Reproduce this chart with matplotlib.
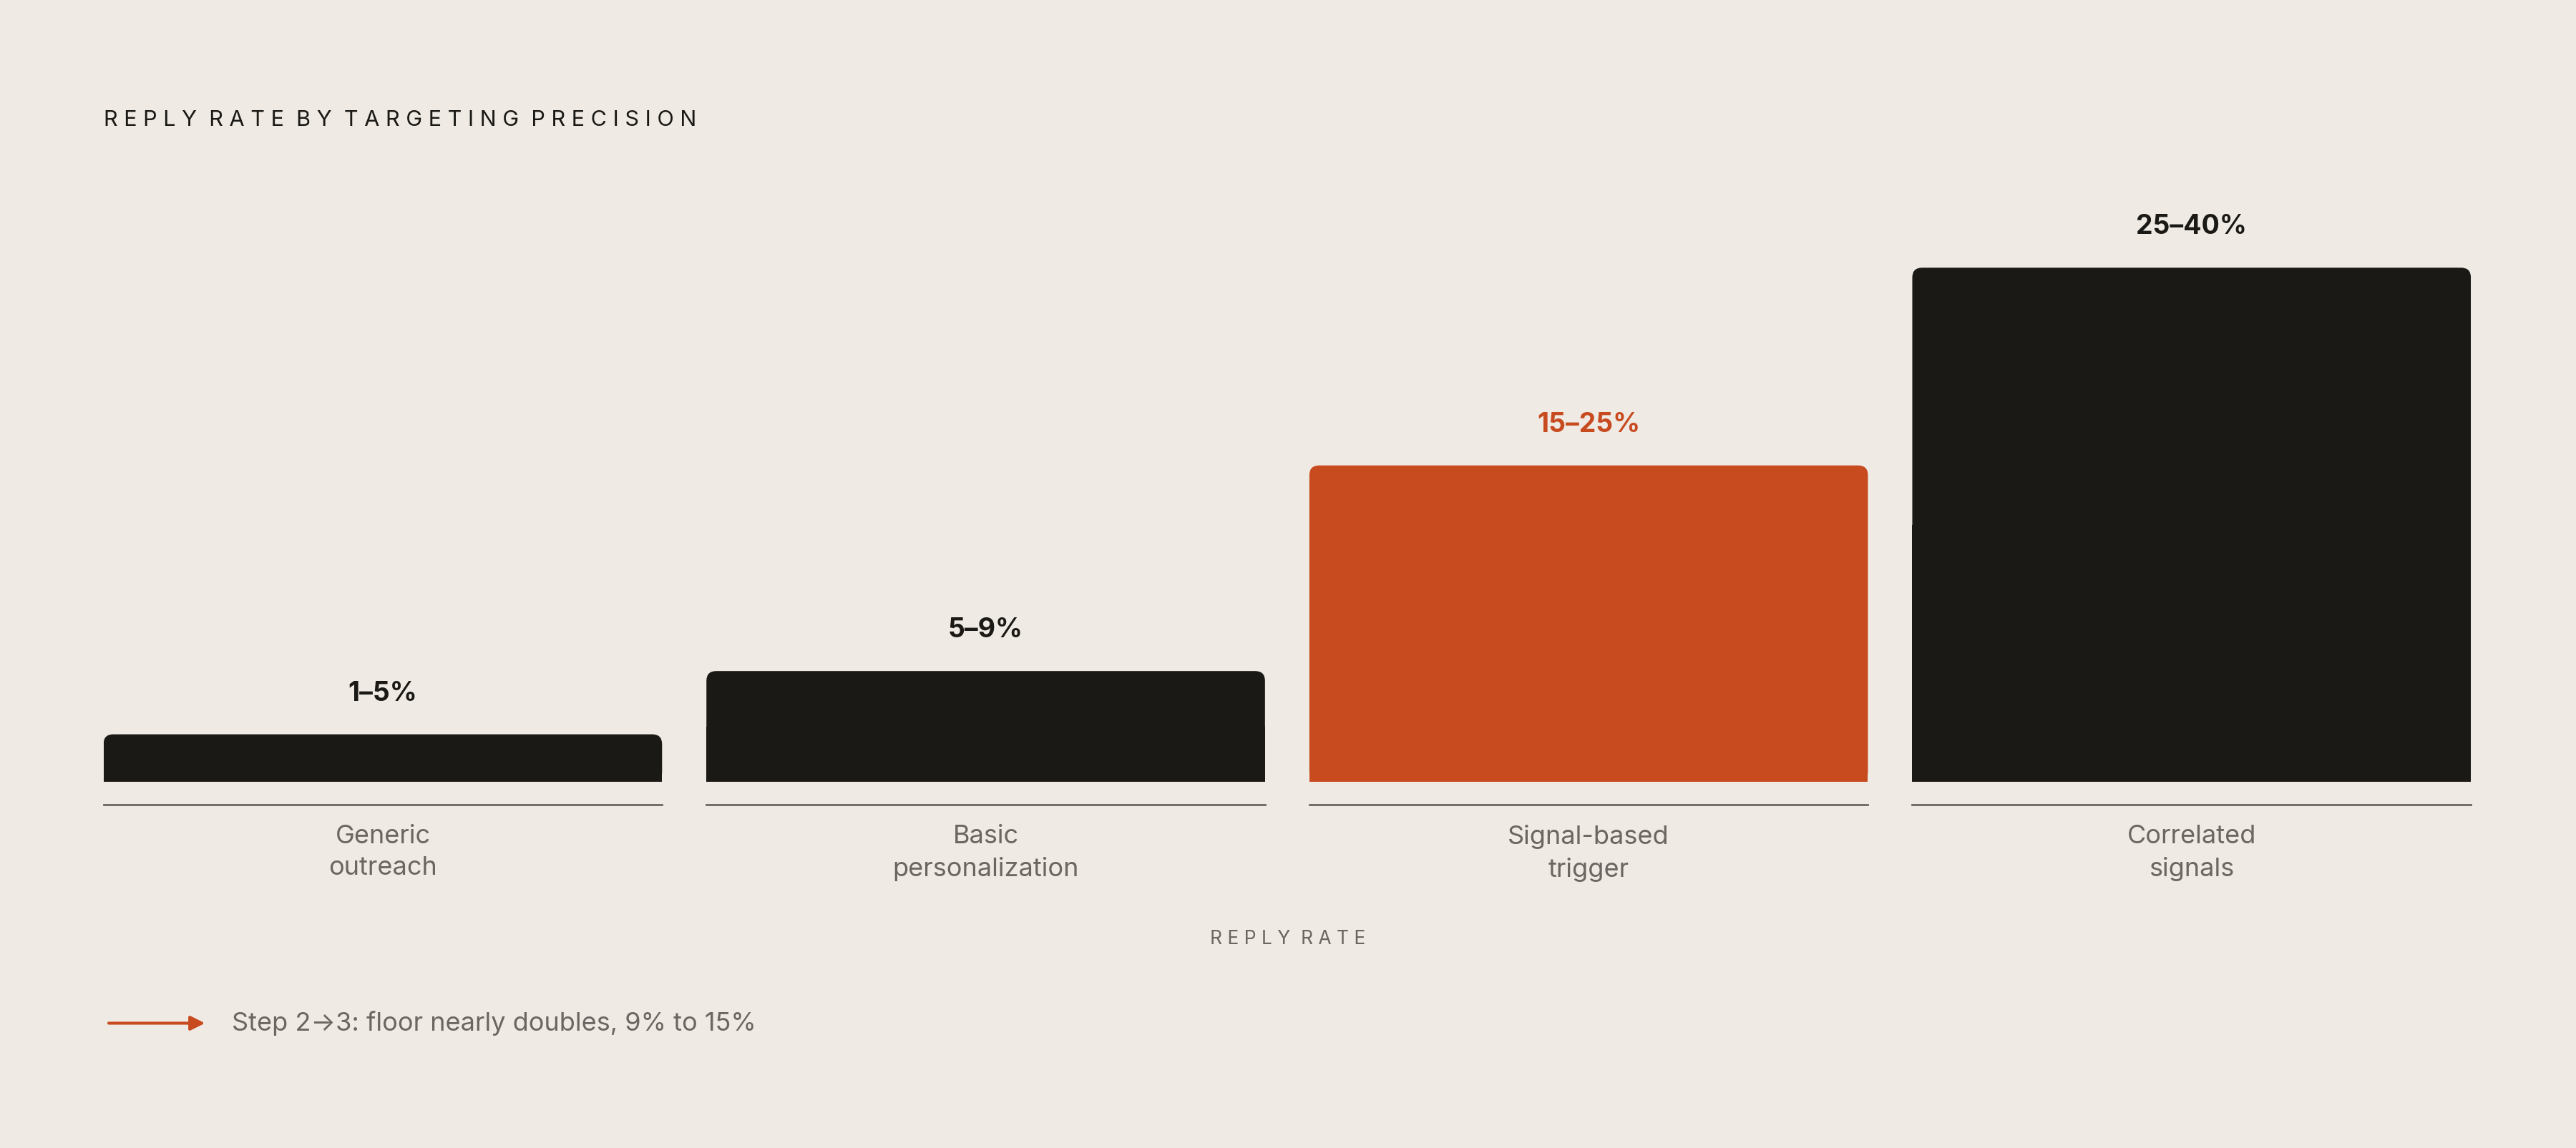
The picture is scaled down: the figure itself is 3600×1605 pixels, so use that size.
import matplotlib
matplotlib.use("Agg")
import matplotlib.pyplot as plt
from matplotlib.patches import FancyBboxPatch, Rectangle

categories = ["Generic\noutreach", "Basic\npersonalization", "Signal-based\ntrigger", "Correlated\nsignals"]
range_labels = ["1–5%", "5–9%", "15–25%", "25–40%"]
low = [1, 5, 15, 25]
high = [5, 9, 25, 40]
mid = [(a + b) / 2 for a, b in zip(low, high)]
highlight = [False, False, True, False]

BG = "#efebe4"; DARK = "#1b1916"; ORANGE = "#c84b20"; GRAY = "#6b6661"
plt.rcParams['font.family'] = ['Inter', 'DejaVu Sans']

W, H = 1568, 699
fig = plt.figure(figsize=(36, 16.05), dpi=100, facecolor=BG)
ax = fig.add_axes([63 / W, 1 - 476 / H, (1504 - 63) / W, (476 - 163) / H])
ax.set_facecolor(BG)
ax.set_xlim(-0.4632, 3.4632)
ax.set_ylim(0, max(mid))
ax.axis("off")

bw = 340 / 367
ypx = (476 - 163) / max(mid)
r = 6 / 367
asp = (6 / ypx) / r
for i, h in enumerate(mid):
    c = ORANGE if highlight[i] else DARK
    ax.add_patch(FancyBboxPatch((i - bw / 2, 0), bw, h, boxstyle=f"round,pad=0,rounding_size={r}",
                                mutation_aspect=asp, fc=c, ec="none"))
    ax.add_patch(Rectangle((i - bw / 2, 0), bw, h / 2, fc=c, ec="none"))
    ax.annotate(range_labels[i], (i, h), xytext=(0, 41), textcoords="offset points",
                ha="center", va="center", fontsize=27, fontweight="bold",
                color=ORANGE if highlight[i] else DARK, annotation_clip=False)
    yl = -14 / ypx
    ax.plot([i - bw / 2, i + bw / 2], [yl, yl], color=GRAY, lw=2, clip_on=False)
    ax.text(i, -26 / ypx, categories[i], ha="center", va="top", fontsize=26,
            color=GRAY, linespacing=1.45, clip_on=False)

fig.text(63 / W, 1 - 73 / H, "  ".join(" ".join(w) for w in "REPLY RATE BY TARGETING PRECISION".split()),
         ha="left", va="center", fontsize=22, color=DARK)
fig.text(784 / W, 1 - 572 / H, "  ".join(" ".join(w) for w in "REPLY RATE".split()),
         ha="center", va="center", fontsize=19, color=GRAY)
fig.patches.append(matplotlib.patches.FancyArrowPatch((65 / W, 1 - 623 / H), (126 / W, 1 - 623 / H),
                   transform=fig.transFigure, arrowstyle="-|>,head_length=12,head_width=6",
                   color=ORANGE, lw=3, mutation_scale=1))
fig.text(141 / W, 1 - 623 / H, "Step 2→3: floor nearly doubles, 9% to 15%",
         ha="left", va="center", fontsize=26, color=GRAY)

fig.savefig("out.png", dpi=100, facecolor=BG)
